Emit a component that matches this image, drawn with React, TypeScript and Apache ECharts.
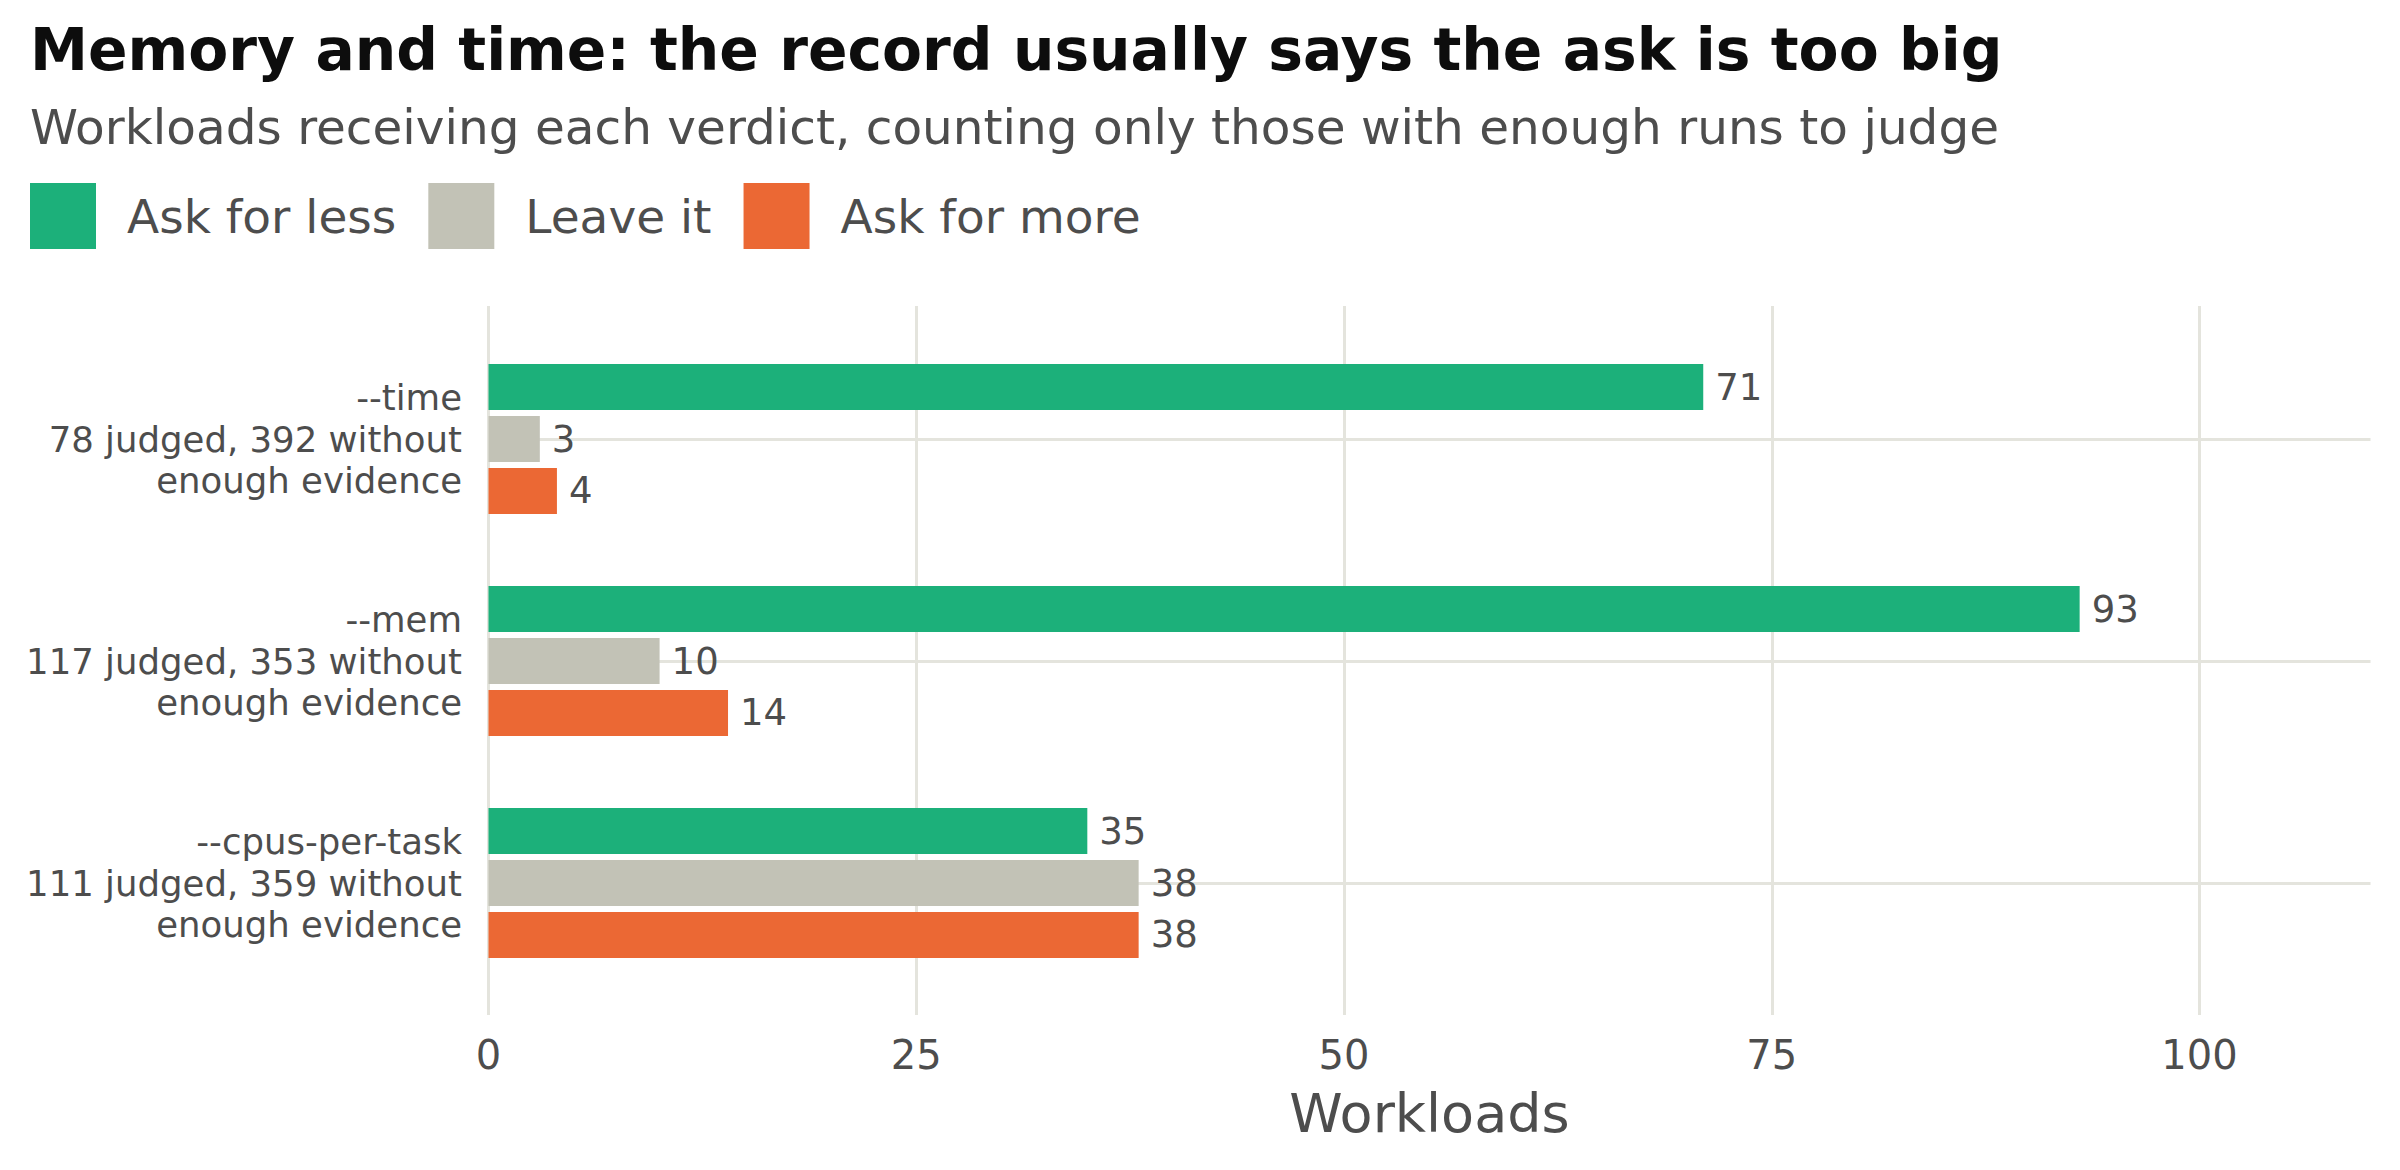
import * as echarts from "echarts";
import { useEffect, useRef } from "react";

// flags on the y axis, top to bottom
const flags = ["--time", "--mem", "--cpus-per-task"];
const judged = [78, 117, 111];
const withoutEvidence = [392, 353, 359];

// workloads per verdict
const verdicts = ["Ask for less", "Leave it", "Ask for more"];
const askForLess = [71, 93, 35];
const leaveIt = [3, 10, 38];
const askForMore = [4, 14, 38];

const xTicks = [0, 25, 50, 75, 100];

const FONT = "DejaVu Sans";
const TEXT = "#4d4d4d";
const GRID_LINE = "#e4e4dd";
const COLORS = ["#1cb07a", "#c2c2b6", "#eb6834"];

const App = () => {
  const chartRef = useRef(null);

  useEffect(() => {
    const chart = echarts.init(chartRef.current, null, { renderer: "svg" });

    const labelFor = (flag: string) => {
      const i = flags.indexOf(flag);
      return `${flag}\n${judged[i]} judged, ${withoutEvidence[i]} without\nenough evidence`;
    };

    const barSeries = (name: string, data: number[], i: number) => ({
      name,
      type: "bar",
      xAxisIndex: 1,
      yAxisIndex: 1,
      data,
      barWidth: 46,
      barGap: "13%",
      clip: false,
      itemStyle: { color: COLORS[i] },
      label: {
        show: true,
        position: "right",
        distance: 12,
        fontFamily: FONT,
        fontSize: 37,
        color: TEXT,
      },
    });

    const options = {
      animation: false,
      title: [
        {
          text: "Memory and time: the record usually says the ask is too big",
          left: 30,
          top: 21,
          padding: 0,
          textStyle: {
            fontFamily: FONT,
            fontSize: 58.3,
            lineHeight: 58,
            fontWeight: "bold",
            color: "#0d0d0d",
          },
        },
        {
          text: "Workloads receiving each verdict, counting only those with enough runs to judge",
          left: 30,
          top: 103,
          padding: 0,
          textStyle: {
            fontFamily: FONT,
            fontSize: 48.5,
            lineHeight: 48,
            fontWeight: "normal",
            color: TEXT,
          },
        },
      ],
      legend: {
        data: verdicts,
        left: 30,
        top: 183,
        padding: 0,
        icon: "rect",
        itemWidth: 66,
        itemHeight: 66,
        itemGap: 32,
        selectedMode: false,
        textStyle: {
          fontFamily: FONT,
          fontSize: 47,
          color: TEXT,
          padding: [0, 0, 0, 26],
        },
      },
      grid: [
        // full panel: vertical gridlines and tick labels
        { left: 488.5, right: 200.5, top: 306, bottom: 155 },
        // bars, one row per flag
        { left: 488.5, right: 29.5, top: 439, bottom: 287 },
      ],
      xAxis: [
        {
          type: "value",
          gridIndex: 0,
          min: 0,
          max: 100,
          interval: 25,
          axisLine: { show: false },
          axisTick: { show: false },
          axisLabel: {
            margin: 20,
            fontFamily: FONT,
            fontSize: 40,
            color: TEXT,
            formatter: (v: number) => (xTicks.includes(v) ? String(v) : ""),
          },
          splitLine: { lineStyle: { color: GRID_LINE, width: 3 } },
        },
        {
          type: "value",
          gridIndex: 1,
          min: 0,
          max: 110,
          axisLine: { show: false },
          axisTick: { show: false },
          axisLabel: { show: false },
          splitLine: { show: false },
          name: "Workloads",
          nameLocation: "middle",
          nameGap: 203,
          nameTextStyle: {
            fontFamily: FONT,
            fontSize: 54,
            lineHeight: 54,
            color: TEXT,
          },
        },
      ],
      yAxis: [
        {
          type: "value",
          gridIndex: 0,
          min: 0,
          max: 1,
          show: false,
        },
        {
          type: "category",
          gridIndex: 1,
          data: flags,
          inverse: true,
          boundaryGap: false,
          axisLine: { show: false },
          axisTick: { show: false },
          axisLabel: {
            margin: 26.5,
            fontFamily: FONT,
            fontSize: 35.5,
            lineHeight: 41.5,
            color: TEXT,
            align: "right",
            formatter: labelFor,
          },
          splitLine: { show: true, lineStyle: { color: GRID_LINE, width: 3 } },
        },
      ],
      series: [
        barSeries(verdicts[0], askForLess, 0),
        barSeries(verdicts[1], leaveIt, 1),
        barSeries(verdicts[2], askForMore, 2),
      ],
    };

    chart.setOption(options);

    const handleResize = () => chart.resize();
    window.addEventListener("resize", handleResize);

    return () => {
      window.removeEventListener("resize", handleResize);
      chart.dispose();
    };
  }, []);

  return (
    <div
      ref={chartRef}
      style={{
        position: "absolute",
        left: 0,
        top: 0,
        width: "2400px",
        height: "1170px",
        background: "#ffffff",
      }}
    />
  );
};

export default App;
